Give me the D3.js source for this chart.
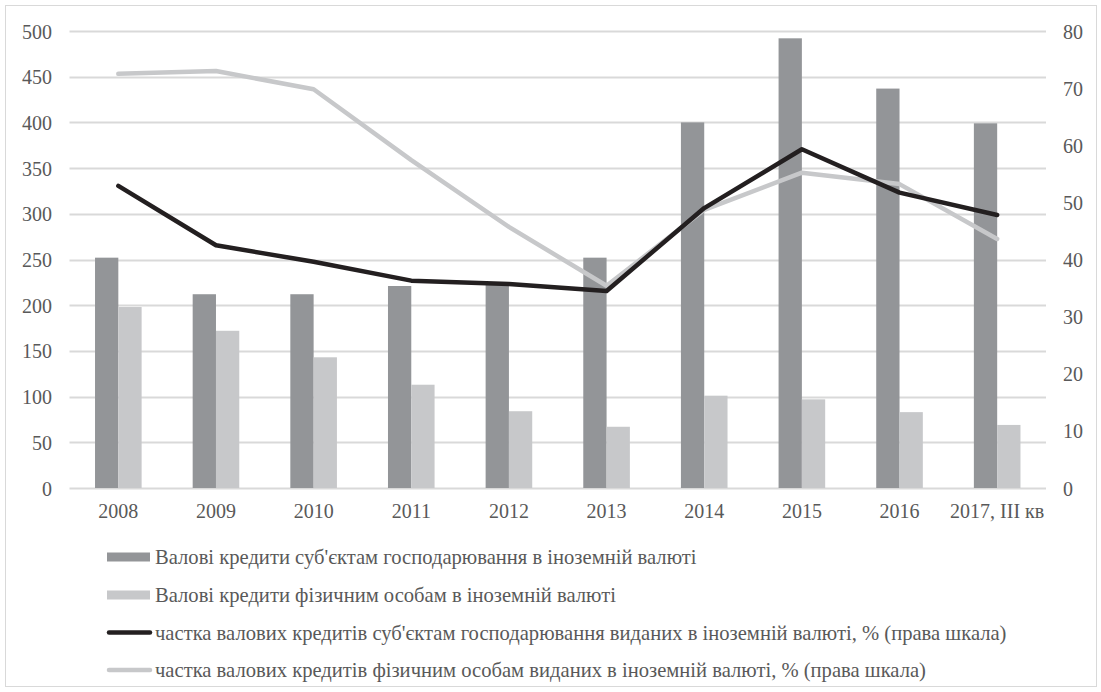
<!DOCTYPE html>
<html><head><meta charset="utf-8">
<script src="https://cdn.jsdelivr.net/npm/d3@7/dist/d3.min.js"></script>
<style>
html,body{margin:0;padding:0;background:#fff;}
</style></head>
<body><svg id="c" width="1101" height="692"></svg>
<script>
const categories = ["2008","2009","2010","2011","2012","2013","2014","2015","2016","2017, III кв"];
const businessLoans = [252,212,212,221,224,252,400,492,437,399];
const householdLoans = [198,172,143,113,84,67,101,97,83,69];
const businessShare = [52.9,42.5,39.6,36.3,35.7,34.5,49.0,59.3,51.7,47.8];
const householdShare = [72.5,73.0,69.8,57.4,45.7,35.4,48.7,55.2,53.2,43.6];
const leftTicks = [0,50,100,150,200,250,300,350,400,450,500];
const rightTicks = [0,10,20,30,40,50,60,70,80];
const legendLabels = [
 "Валові кредити суб'єктам господарювання в іноземній валюті",
 "Валові кредити фізичним особам в іноземній валюті",
 "частка валових кредитів суб'єктам господарювання виданих в іноземній валюті, % (права шкала)",
 "частка валових кредитів фізичним особам виданих в іноземній валюті, % (права шкала)"
];

const FONT = '"Liberation Serif","Times New Roman","DejaVu Serif",serif';
const C = {dark:"#939598", light:"#c7c8ca", black:"#231f20", grid:"#d9d9d9", text:"#595959"};
const svg = d3.select("#c");
svg.append("rect").attr("x",5.5).attr("y",5.5).attr("width",1091).attr("height",681)
  .attr("fill","#fff").attr("stroke",C.grid);

const L=69.5, R=1046, T=31, B=488;
const x = d3.scaleBand().domain(categories).range([L,R]);
const yL = d3.scaleLinear().domain([0,500]).range([B,T]);
const yR = d3.scaleLinear().domain([0,80]).range([B,T]);

function styleText(g){
  g.select(".domain").remove();
  g.selectAll("text").style("font-family",FONT).style("font-size","20px").attr("fill",C.text).attr("dy","0.35em");
}

// grid
svg.append("g").selectAll("line").data(leftTicks).join("line")
  .attr("x1",L).attr("x2",R).attr("y1",d=>Math.round(yL(d))+0.5).attr("y2",d=>Math.round(yL(d))+0.5)
  .attr("stroke",C.grid).attr("stroke-width",2);

svg.append("g").attr("transform",`translate(52,0)`)
  .call(d3.axisLeft(yL).tickValues(leftTicks).tickSize(0).tickPadding(0)).call(styleText);
svg.append("g").attr("transform",`translate(1063,0)`)
  .call(d3.axisRight(yR).tickValues(rightTicks).tickSize(0).tickPadding(0)).call(styleText);
svg.append("g").attr("transform",`translate(0,${B+23})`)
  .call(d3.axisBottom(x).tickSize(0).tickPadding(0)).call(styleText);

const bw = 23.3;
const cx = d => x(d)+x.bandwidth()/2;
svg.append("g").selectAll("rect").data(categories).join("rect")
  .attr("x",(d)=>cx(d)-bw).attr("width",bw)
  .attr("y",(d,i)=>yL(businessLoans[i])).attr("height",(d,i)=>B-yL(businessLoans[i]))
  .attr("fill",C.dark);
svg.append("g").selectAll("rect").data(categories).join("rect")
  .attr("x",(d)=>cx(d)).attr("width",bw)
  .attr("y",(d,i)=>yL(householdLoans[i])).attr("height",(d,i)=>B-yL(householdLoans[i]))
  .attr("fill",C.light);

const line = d3.line().x((d,i)=>cx(categories[i])).y(d=>yR(d));
svg.append("path").datum(householdShare).attr("d",line).attr("fill","none")
  .attr("stroke",C.light).attr("stroke-width",4.5).attr("stroke-linecap","round").attr("stroke-linejoin","round");
svg.append("path").datum(businessShare).attr("d",line).attr("fill","none")
  .attr("stroke",C.black).attr("stroke-width",4.5).attr("stroke-linecap","round").attr("stroke-linejoin","round");

// legend
const ly = [557,595,632.5,670];
const lg = svg.append("g");
legendLabels.forEach((t,i)=>{
  const y = ly[i];
  if(i<2){
    lg.append("rect").attr("x",107).attr("y",y-4.5).attr("width",43).attr("height",9).attr("fill",i===0?C.dark:C.light);
  } else {
    lg.append("line").attr("x1",109).attr("x2",150).attr("y1",y).attr("y2",y)
      .attr("stroke",i===2?C.black:C.light).attr("stroke-width",4.5).attr("stroke-linecap","round");
  }
  lg.append("text").attr("x",155).attr("y",y).attr("dy","0.35em")
    .style("font-family",FONT).style("font-size","20.6px").attr("fill",C.text).text(t);
});
</script></body></html>
